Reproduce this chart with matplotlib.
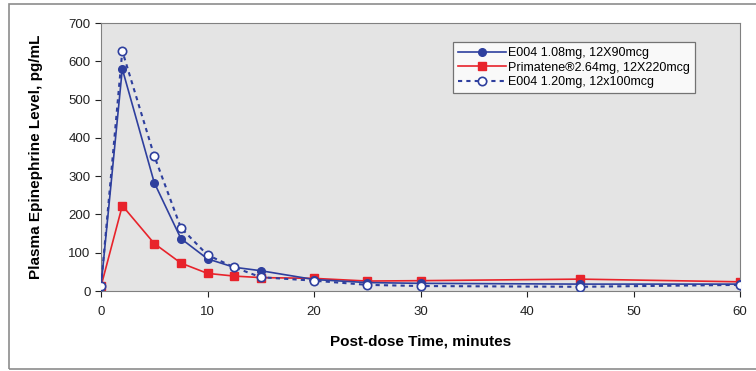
import matplotlib
matplotlib.use('Agg')
import matplotlib.pyplot as plt
from matplotlib.patches import Rectangle

plt.rcParams['font.family'] = ['Liberation Sans', 'DejaVu Sans']

# ============================================================
#  data
# ============================================================
time_min = [0, 2, 5, 7.5, 10, 12.5, 15, 20, 25, 30, 45, 60]
e004_108 = [12, 580, 283, 137, 84, 62, 53, 30, 22, 20, 18, 18]
primatene = [12, 223, 124, 73, 46, 39, 35, 33, 26, 27, 31, 24]
e004_120 = [13, 627, 353, 165, 94, 62, 36, 27, 16, 13, 11, 16]

labels = ['E004 1.08mg, 12X90mcg',
          'Primatene\u00ae2.64mg, 12X220mcg',
          'E004 1.20mg, 12x100mcg']

fig = plt.figure(figsize=(7.56, 3.71), dpi=100)
ax = fig.add_axes([101 / 756, 1 - 291 / 371, 639 / 756, 268 / 371])
ax.set_facecolor('#e4e4e4')

# outer chart frame
fig.patches.append(Rectangle((9 / 756, 2 / 371), 760 / 756, 365 / 371,
                             transform=fig.transFigure, fill=False,
                             edgecolor='#8c8c8c', lw=1.2))

ax.plot(time_min, e004_108, color='#2e3f9e', lw=1.2, marker='o', ms=5.5,
        mfc='#2e3f9e', mec='#2e3f9e', label=labels[0], zorder=3)
ax.plot(time_min, primatene, color='#e8232b', lw=1.2, marker='s', ms=6,
        mfc='#e8232b', mec='#e8232b', label=labels[1], zorder=2)
ax.plot(time_min, e004_120, color='#2e3f9e', lw=1.5, ls=(0, (2, 2)),
        marker='o', ms=6, mfc='white', mec='#2e3f9e', mew=1.2,
        label=labels[2], zorder=4)

ax.set_xlim(0, 60)
ax.set_ylim(0, 700)
ax.set_xticks(range(0, 61, 10))
ax.set_yticks(range(0, 701, 100))
ax.tick_params(labelsize=9.5, colors='#222222', length=4, direction='out')
ax.tick_params(axis='x', pad=7)
for s in ax.spines.values():
    s.set_color('#808080')

ax.set_xlabel('Post-dose Time, minutes', fontsize=11, fontweight='bold',
              labelpad=12)
ax.set_ylabel('Plasma Epinephrine Level, pg/mL', fontsize=11,
              fontweight='bold', labelpad=18)

leg = ax.legend(loc='upper left', bbox_to_anchor=(352 / 639, 1 - 19 / 268),
                fontsize=9, frameon=True, fancybox=False, handlelength=3.8,
                borderpad=0.4, labelspacing=0.2, handletextpad=0.2,
                borderaxespad=0)
leg.get_frame().set_edgecolor('#555555')
leg.get_frame().set_linewidth(0.9)

plt.savefig('out.png', dpi=100)
plt.close()
